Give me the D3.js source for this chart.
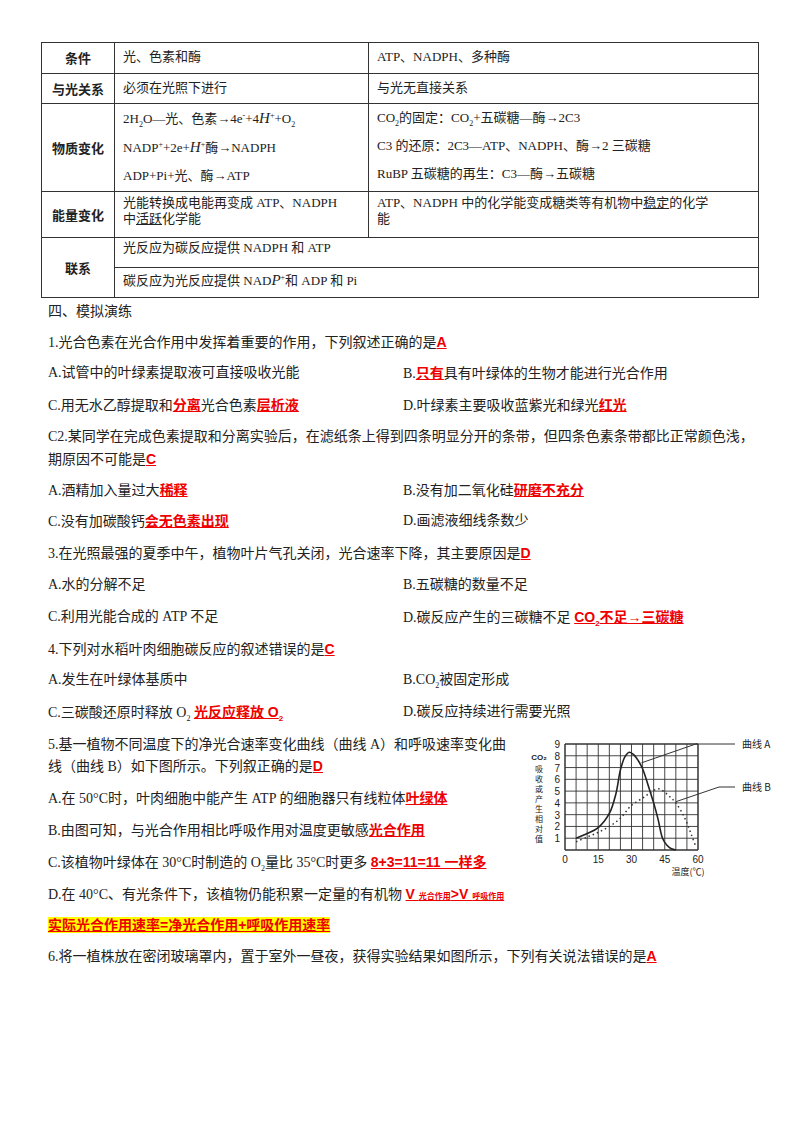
<!DOCTYPE html>
<html><head><meta charset="utf-8">
<script src="https://cdn.jsdelivr.net/npm/d3@7/dist/d3.min.js"></script>
<style>
body{margin:0;background:#fff;font-family:"Liberation Serif","Noto Sans CJK SC",serif;color:#222}
sub,sup{line-height:0}
.t{position:absolute;font-size:14px;white-space:nowrap;line-height:16px}
.r{color:#e00;font-weight:bold;text-decoration:underline;font-family:"Liberation Sans","Noto Sans CJK SC",sans-serif}
table{position:absolute;left:41px;top:42px;border-collapse:collapse;font-size:13px;table-layout:fixed}
td{border:1px solid #333;padding:0 8px;vertical-align:top;line-height:16px;overflow:hidden}
td.h{text-align:center;vertical-align:middle;font-weight:bold;font-family:"Noto Sans CJK SC";padding:0}
</style></head><body>
<table>
<tr style="height:31px"><td class="h" style="width:72px">条件</td><td style="width:237px;padding-top:6px">光、色素和酶</td><td style="width:373px;padding-top:6px">ATP、NADPH、多种酶</td></tr>
<tr style="height:30px"><td class="h">与光关系</td><td style="padding-top:6px">必须在光照下进行</td><td style="padding-top:6px">与光无直接关系</td></tr>
<tr style="height:88px"><td class="h">物质变化</td><td style="line-height:28px;padding-top:0">2H<sub style="font-size:8px">2</sub>O—光、色素→4e<sup style="font-size:8px">-</sup>+4<i style="font-size:15px">H</i><sup style="font-size:8px">+</sup>+O<sub style="font-size:8px">2</sub><br>NADP<sup style="font-size:8px">+</sup>+2e+<i style="font-size:15px">H</i><sup style="font-size:8px">+</sup>酶→NADPH<br>ADP+Pi+光、酶→ATP</td><td style="line-height:28px">CO<sub style="font-size:8px">2</sub>的固定：CO<sub style="font-size:8px">2</sub>+五碳糖—酶→2C3<br>C3 的还原：2C3—ATP、NADPH、酶→2 三碳糖<br>RuBP 五碳糖的再生：C3—酶→五碳糖</td></tr>
<tr style="height:46px"><td class="h">能量变化</td><td style="padding-top:3px">光能转换成电能再变成 ATP、NADPH<br>中<u>活跃</u>化学能</td><td style="padding-top:3px">ATP、NADPH 中的化学能变成糖类等有机物中<u>稳定</u>的化学<br>能</td></tr>
<tr style="height:30px"><td class="h" rowspan="2">联系</td><td colspan="2" style="padding-top:2px">光反应为碳反应提供 NADPH 和 ATP</td></tr>
<tr style="height:30px"><td colspan="2" style="padding-top:4px">碳反应为光反应提供 NAD<i style="font-size:15px">P</i><sup style="font-size:8px">+</sup>和 ADP 和 Pi</td></tr>
</table>
<div id="txt"></div>
<svg id="chart" width="800" height="1133" style="position:absolute;left:0;top:0"></svg>
<script>
const lines=[
[48,304,'四、模拟演练'],
[48,334,'1.光合色素在光合作用中发挥着重要的作用，下列叙述正确的是<span class="r">A</span>'],
[48,365,'A.试管中的叶绿素提取液可直接吸收光能'],[403,365,'B.<span class="r">只有</span>具有叶绿体的生物才能进行光合作用'],
[48,397,'C.用无水乙醇提取和<span class="r">分离</span>光合色素<span class="r">层析液</span>'],[403,397,'D.叶绿素主要吸收蓝紫光和绿光<span class="r">红光</span>'],
[48,429,'C2.某同学在完成色素提取和分离实验后，在滤纸条上得到四条明显分开的条带，但四条色素条带都比正常颜色浅，'],
[48,451,'期原因不可能是<span class="r">C</span>'],
[48,482,'A.酒精加入量过大<span class="r">稀释</span>'],[403,482,'B.没有加二氧化硅<span class="r">研磨不充分</span>'],
[48,513,'C.没有加碳酸钙<span class="r">会无色素出现</span>'],[403,513,'D.画滤液细线条数少'],
[48,545,'3.在光照最强的夏季中午，植物叶片气孔关闭，光合速率下降，其主要原因是<span class="r">D</span>'],
[48,577,'A.水的分解不足'],[403,577,'B.五碳糖的数量不足'],
[48,609,'C.利用光能合成的 ATP 不足'],[403,609,'D.碳反应产生的三碳糖不足 <span class="r">CO<sub style="font-size:8px">2</sub>不足→三碳糖</span>'],
[48,641,'4.下列对水稻叶肉细胞碳反应的叙述错误的是<span class="r">C</span>'],
[48,672,'A.发生在叶绿体基质中'],[403,672,'B.CO<sub style="font-size:8px">2</sub>被固定形成'],
[48,704,'C.三碳酸还原时释放 O<sub style="font-size:8px">2</sub> <span class="r">光反应释放 O<sub style="font-size:8px">2</sub></span>'],[403,704,'D.碳反应持续进行需要光照'],
[48,737,'5.基一植物不同温度下的净光合速率变化曲线（曲线 A）和呼吸速率变化曲'],
[48,758,'线（曲线 B）如下图所示。下列叙正确的是<span class="r">D</span>'],
[48,790,'A.在 50°C时，叶肉细胞中能产生 ATP 的细胞器只有线粒体<span class="r">叶绿体</span>'],
[48,822,'B.由图可知，与光合作用相比呼吸作用对温度更敏感<span class="r">光合作用</span>'],
[48,854,'C.该植物叶绿体在 30°C时制造的 O<sub style="font-size:8px">2</sub>量比 35°C时更多 <span class="r">8+3=11=11 一样多</span>'],
[48,886,'D.在 40°C、有光条件下，该植物仍能积累一定量的有机物 <span class="r">V <span style="font-size:8px">光合作用</span>&gt;V <span style="font-size:8px">呼吸作用</span></span>'],
[48,917,'<span class="r" style="background:#ff0">实际光合作用速率=净光合作用+呼吸作用速率</span>'],
[48,948,'6.将一植株放在密闭玻璃罩内，置于室外一昼夜，获得实验结果如图所示，下列有关说法错误的是<span class="r">A</span>']
];
const box=document.getElementById('txt');
lines.forEach(([x,y,h])=>{const d=document.createElement('div');d.className='t';d.style.left=x+'px';d.style.top=y+'px';d.innerHTML=h;box.appendChild(d);});

// chart data
const xTicks=[0,15,30,45,60];
const yTicks=[1,2,3,4,5,6,7,8,9];
const curveA_t=[5,10,15,20,23,25,27,29,31,33,35,38,40,42,44,46,48,50];
const curveA_v=[1,1.4,1.9,3.1,4.8,6.8,7.9,8.3,8.1,7.6,6.9,5.2,4.0,2.6,1.0,0.4,0.1,0];
const curveB_t=[5,10,15,20,25,30,35,38,42,45,48,50,53,55,57,59];
const curveB_v=[0.7,1.1,1.5,2,2.7,3.8,4.4,4.8,5.2,4.9,4.4,4.0,3.1,2.3,1.3,0.3];

const svg=d3.select('#chart');
const x=d3.scaleLinear().domain([0,60]).range([565,698]);
const y=d3.scaleLinear().domain([0,9]).range([850,744]);
const g=svg.append('g').attr('stroke','#333');
d3.range(0,61,5).forEach(v=>g.append('line').attr('x1',x(v)).attr('x2',x(v)).attr('y1',y(0)).attr('y2',y(9)).attr('stroke-width',v==0||v==60?1.5:0.9));
d3.range(0,10,1).forEach(v=>g.append('line').attr('x1',x(0)).attr('x2',x(60)).attr('y1',y(v)).attr('y2',y(v)).attr('stroke-width',v==0||v==9?1.5:0.9));
const ln=d3.line().curve(d3.curveCatmullRom);
svg.append('path').attr('d',ln(curveA_t.map((t,i)=>[x(t),y(curveA_v[i])]))).attr('fill','none').attr('stroke','#222').attr('stroke-width',1.6);
svg.append('path').attr('d',ln(curveB_t.map((t,i)=>[x(t),y(curveB_v[i])]))).attr('fill','none').attr('stroke','#333').attr('stroke-width',1.5).attr('stroke-dasharray','1.5,3');
const ax=svg.append('g').attr('font-size',10).attr('font-family','Liberation Sans').attr('fill','#222');
yTicks.forEach(v=>ax.append('text').attr('x',x(0)-5).attr('y',y(v)+4).attr('text-anchor','end').text(v));
xTicks.forEach(v=>ax.append('text').attr('x',x(v)).attr('y',863).attr('text-anchor','middle').text(v));
ax.append('text').attr('x',688).attr('y',875).attr('font-size',9).attr('font-family','Noto Sans CJK SC').attr('text-anchor','middle').text('温度(℃)');
ax.append('text').attr('x',539).attr('y',760).attr('font-size',8).attr('font-weight','bold').attr('text-anchor','middle').text('CO₂');
'吸收或产生相对值'.split('').forEach((c,i)=>ax.append('text').attr('x',539).attr('y',772+i*10).attr('font-size',8).attr('font-family','Noto Sans CJK SC').attr('text-anchor','middle').text(c));
svg.append('polyline').attr('points',[[x(34.5),y(7.4)],[x(59),744],[735,744]].join(' ')).attr('fill','none').attr('stroke','#333');
svg.append('polyline').attr('points',[[x(50),y(4.1)],[719,787],[735,787]].join(' ')).attr('fill','none').attr('stroke','#333');
ax.append('text').attr('x',742).attr('y',748).attr('font-size',10).attr('font-family','Noto Sans CJK SC').text('曲线 A');
ax.append('text').attr('x',742).attr('y',791).attr('font-size',10).attr('font-family','Noto Sans CJK SC').text('曲线 B');
</script></body></html>
